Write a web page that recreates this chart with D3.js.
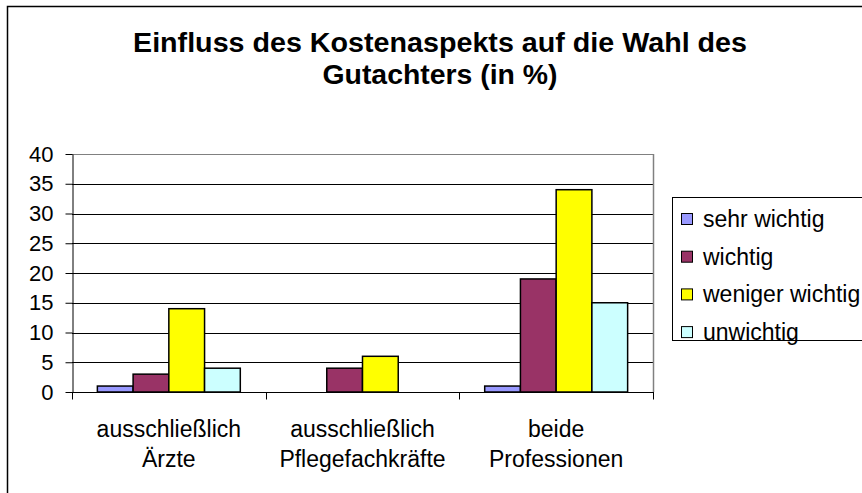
<!DOCTYPE html>
<html>
<head>
<meta charset="utf-8">
<script src="https://cdn.jsdelivr.net/npm/d3@7"></script>
<style>
  html, body { margin: 0; padding: 0; background: #fff; }
  svg { display: block; }
  text { font-family: "Liberation Sans", Arial, sans-serif; fill: #000; }
</style>
</head>
<body>
<svg id="chart" width="862" height="493"></svg>
<script>
const titleLines = ["Einfluss des Kostenaspekts auf die Wahl des", "Gutachters (in %)"];
const categories = ["ausschließlich Ärzte", "ausschließlich Pflegefachkräfte", "beide Professionen"];
const categoryLines = [["ausschließlich", "Ärzte"], ["ausschließlich", "Pflegefachkräfte"], ["beide", "Professionen"]];
const seriesNames = ["sehr wichtig", "wichtig", "weniger wichtig", "unwichtig"];
const seriesColors = ["#9999FF", "#993366", "#FFFF00", "#CCFFFF"];
const sehrWichtig = [1, 0, 1];
const wichtig = [3, 4, 19];
const wenigerWichtig = [14, 6, 34];
const unwichtig = [4, 0, 15];
const seriesValues = [sehrWichtig, wichtig, wenigerWichtig, unwichtig];
const yTicks = [0, 5, 10, 15, 20, 25, 30, 35, 40];

const svg = d3.select("#chart");
const plot = { left: 72, right: 653, top: 154, bottom: 392 };

// outer frame
svg.append("rect").attr("x", 7.5).attr("y", 6.5).attr("width", 900).attr("height", 600)
  .attr("fill", "none").attr("stroke", "#000").attr("stroke-width", 1.5);

// title
const title = svg.append("g");
[[titleLines[0], 52, 614], [titleLines[1], 83.5, 235]].forEach(([t, y, len]) => {
  title.append("text").attr("x", 440).attr("y", y).attr("text-anchor", "middle")
    .attr("font-size", 27).attr("font-weight", "bold")
    .attr("textLength", len).attr("lengthAdjust", "spacingAndGlyphs").text(t);
});

const y = d3.scaleLinear().domain([0, 40]).range([plot.bottom, plot.top]);
const x0 = d3.scaleBand().domain(categories).range([plot.left, plot.right]).padding(0);
const x1 = d3.scaleBand().domain(seriesNames).range([0, x0.bandwidth()]).paddingInner(0).paddingOuter(0.71);
const color = d3.scaleOrdinal().domain(seriesNames).range(seriesColors);

// gridlines
svg.append("g").selectAll("line").data(yTicks.filter(d => d > 0)).join("line")
  .attr("x1", plot.left).attr("x2", plot.right)
  .attr("y1", d => Math.round(y(d)) + 0.5).attr("y2", d => Math.round(y(d)) + 0.5)
  .attr("stroke", d => d === 40 ? "#808080" : "#000").attr("stroke-width", 1);
// plot area right border
svg.append("line").attr("x1", plot.right + 0.5).attr("x2", plot.right + 0.5)
  .attr("y1", plot.top).attr("y2", plot.bottom).attr("stroke", "#808080").attr("stroke-width", 1.5);

// bars
const groups = svg.append("g").selectAll("g").data(categories).join("g")
  .attr("transform", d => `translate(${x0(d)},0)`);
groups.selectAll("rect").data((c, ci) => seriesNames.map((s, si) => ({ s, v: seriesValues[si][ci] })).filter(d => d.v > 0))
  .join("rect")
  .attr("x", d => x1(d.s)).attr("width", x1.bandwidth())
  .attr("y", d => y(d.v)).attr("height", d => y(0) - y(d.v))
  .attr("fill", d => color(d.s)).attr("stroke", "#000").attr("stroke-width", 1.5);

// y axis
const yAxis = svg.append("g").attr("transform", `translate(${plot.left + 0.5},0)`)
  .call(d3.axisLeft(y).tickValues(yTicks).tickSize(7).tickPadding(12).tickSizeOuter(0));
yAxis.select(".domain").attr("stroke", "#000");
yAxis.selectAll(".tick line").attr("stroke", "#000");
yAxis.selectAll(".tick text").attr("font-size", 22).attr("font-family", "Liberation Sans, Arial, sans-serif").attr("fill", "#000");

// x axis
const xAxis = svg.append("g").attr("transform", `translate(0,${plot.bottom + 0.5})`);
xAxis.append("line").attr("x1", plot.left).attr("x2", plot.right + 1).attr("y1", 0).attr("y2", 0).attr("stroke", "#000");
const tickXs = categories.map(c => x0(c)).concat([plot.right]);
xAxis.selectAll(".ct").data(tickXs).join("line").attr("class", "ct")
  .attr("x1", d => Math.round(d) + 0.5).attr("x2", d => Math.round(d) + 0.5).attr("y1", 0).attr("y2", 7)
  .attr("stroke", "#000");
categories.forEach((c, i) => {
  const t = svg.append("text").attr("text-anchor", "middle").attr("font-size", 23)
    .attr("x", x0(c) + x0.bandwidth() / 2);
  categoryLines[i].forEach((ln, j) => {
    t.append("tspan").attr("x", x0(c) + x0.bandwidth() / 2).attr("y", 437 + j * 30).text(ln);
  });
});

// legend
const legend = svg.append("g");
legend.append("rect").attr("x", 672.5).attr("y", 197.5).attr("width", 250).attr("height", 143)
  .attr("fill", "#fff").attr("stroke", "#000").attr("stroke-width", 1);
seriesNames.forEach((s, i) => {
  const cy = 219 + i * 37.7;
  legend.append("rect").attr("x", 681.5).attr("y", cy - 5.5).attr("width", 11).attr("height", 11)
    .attr("fill", color(s)).attr("stroke", "#000").attr("stroke-width", 1);
  legend.append("text").attr("x", 703).attr("y", cy + 8).attr("font-size", 23).text(s);
});
</script>
</body>
</html>
